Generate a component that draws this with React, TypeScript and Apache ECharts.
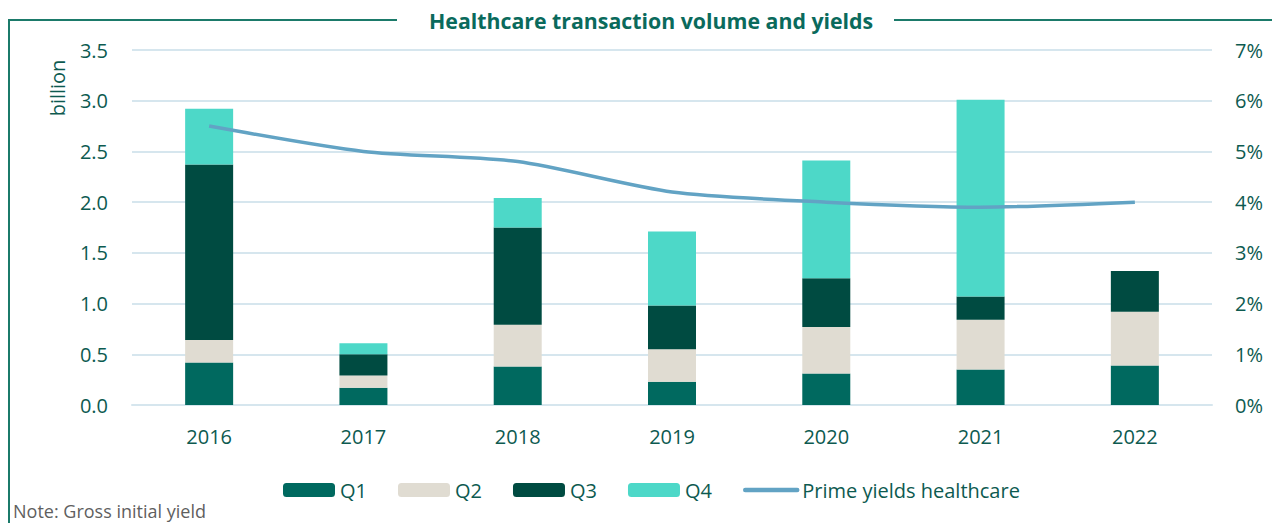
import React, { useEffect, useRef } from "react";
import * as echarts from "echarts";

const years = ["2016", "2017", "2018", "2019", "2020", "2021", "2022"];
const q1 = [0.42, 0.17, 0.38, 0.23, 0.31, 0.35, 0.39];
const q2 = [0.22, 0.12, 0.41, 0.32, 0.46, 0.49, 0.53];
const q3 = [1.73, 0.21, 0.96, 0.43, 0.48, 0.23, 0.40];
const q4 = [0.55, 0.11, 0.29, 0.73, 1.16, 1.94, null];
const primeYield = [5.5, 5.0, 4.8, 4.2, 4.0, 3.9, 4.0];

const FONT = "'Open Sans', sans-serif";
const TEXT = "#0d5a50";

export default function App() {
  const ref = useRef<HTMLDivElement>(null);
  useEffect(() => {
    if (!ref.current) return;
    const chart = echarts.init(ref.current, null, { renderer: "svg" });
    const barBase = { type: "bar", stack: "vol", barWidth: 48, yAxisIndex: 0 };
    chart.setOption({
      animation: false,
      textStyle: { fontFamily: FONT },
      grid: { left: 132, right: 60, top: 50, bottom: 118 },
      title: {
        text: "Healthcare transaction volume and yields",
        left: 424,
        top: 5,
        textStyle: { fontFamily: FONT, fontSize: 21.3, fontWeight: "bold", color: "#0a6a5c" },
      },
      legend: {
        left: 278,
        top: 475,
        itemWidth: 52,
        itemHeight: 14,
        itemGap: 31,
        textStyle: { fontFamily: FONT, fontSize: 20, color: TEXT },
        data: [
          "Q1",
          "Q2",
          "Q3",
          "Q4",
          {
            name: "Prime yields healthcare",
            itemStyle: { opacity: 0 },
            lineStyle: { width: 4.5, color: "#62a3c4", cap: "round" },
          },
        ],
      },
      xAxis: {
        type: "category",
        data: years,
        axisTick: { show: false },
        axisLine: { lineStyle: { color: "#d6e6ee", width: 2 } },
        axisLabel: { fontFamily: FONT, fontSize: 20, color: TEXT, margin: 21 },
      },
      yAxis: [
        {
          type: "value",
          min: 0,
          max: 3.5,
          interval: 0.5,
          axisLabel: {
            fontFamily: FONT,
            fontSize: 20,
            color: TEXT,
            margin: 24,
            formatter: (v: number) => v.toFixed(1),
          },
          splitLine: { lineStyle: { color: "#d6e6ee", width: 2 } },
          axisLine: { show: false },
          axisTick: { show: false },
        },
        {
          type: "value",
          min: 0,
          max: 7,
          interval: 1,
          axisLabel: {
            fontFamily: FONT,
            fontSize: 20,
            color: TEXT,
            margin: 23,
            formatter: (v: number) => `${v}%`,
          },
          splitLine: { show: false },
          axisLine: { show: false },
          axisTick: { show: false },
        },
      ],
      series: [
        { ...barBase, name: "Q1", data: q1, itemStyle: { color: "#00695f" } },
        { ...barBase, name: "Q2", data: q2, itemStyle: { color: "#e0dcd2" } },
        { ...barBase, name: "Q3", data: q3, itemStyle: { color: "#004b41" } },
        { ...barBase, name: "Q4", data: q4, itemStyle: { color: "#4dd8c8" } },
        {
          type: "line",
          name: "Prime yields healthcare",
          yAxisIndex: 1,
          data: primeYield,
          symbol: "none",
          smooth: 0.25,
          itemStyle: { color: "#62a3c4" },
          lineStyle: { color: "#62a3c4", width: 3.5 },
        },
      ],
      graphic: [
        {
          type: "polyline",
          shape: { points: [[397, 20], [9, 20], [9, 523]] },
          style: { stroke: "#1b7a6a", lineWidth: 2, fill: null },
        },
        {
          type: "line",
          shape: { x1: 894, y1: 20, x2: 1272, y2: 20 },
          style: { stroke: "#1b7a6a", lineWidth: 2 },
        },
        {
          type: "text",
          x: 57,
          y: 88,
          rotation: Math.PI / 2,
          style: {
            text: "billion",
            fontFamily: FONT,
            fontSize: 20,
            fill: TEXT,
            align: "center",
            verticalAlign: "middle",
          },
        },
        {
          type: "text",
          x: 13,
          y: 511,
          style: {
            text: "Note: Gross initial yield",
            fontFamily: FONT,
            fontSize: 18,
            fill: "#5f5f5f",
            verticalAlign: "middle",
          },
        },
      ],
    });
    return () => chart.dispose();
  }, []);
  return (
    <div
      ref={ref}
      style={{ position: "fixed", left: 0, top: 0, width: 1272, height: 523, background: "#fff" }}
    />
  );
}
